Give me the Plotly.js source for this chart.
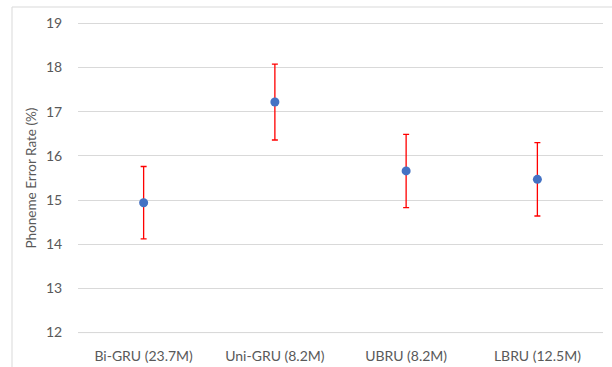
<!DOCTYPE html>
<html>
<head>
<meta charset="utf-8">
<script src="https://cdn.plot.ly/plotly-3.0.1.min.js"></script>
<style>html,body{margin:0;padding:0;background:#fff}#chart{width:612px;height:367px}</style>
</head>
<body>
<div id="chart"></div>
<script>
var models = ["Bi-GRU (23.7M)", "Uni-GRU (8.2M)", "UBRU (8.2M)", "LBRU (12.5M)"];
var perValues = [14.94, 17.22, 15.66, 15.47];
var perErrors = [0.82, 0.86, 0.83, 0.83];
var yTicks = [12, 13, 14, 15, 16, 17, 18, 19];

var trace = {
  x: models,
  y: perValues,
  type: "scatter",
  mode: "markers",
  marker: {color: "#4472C4", size: 9},
  error_y: {type: "data", array: perErrors, visible: true, color: "#FF0000", thickness: 1.3, width: 3},
  hoverinfo: "none"
};

var font = "Lato, 'Open Sans', sans-serif";
var layout = {
  width: 612, height: 367,
  margin: {l: 78, r: 9, t: 19, b: 30, pad: 0},
  paper_bgcolor: "#ffffff", plot_bgcolor: "#ffffff",
  showlegend: false,
  font: {family: font, color: "#595959", size: 13},
  xaxis: {
    type: "category", range: [-0.5, 3.5],
    showgrid: false, zeroline: false, showline: false,
    ticks: "outside", ticklen: 6, tickcolor: "rgba(0,0,0,0)",
    tickfont: {size: 14, color: "#595959", family: font}
  },
  yaxis: {
    range: [11.9, 19.1], tickvals: yTicks, ticktext: yTicks.map(String),
    showgrid: true, gridcolor: "#d9d9d9", gridwidth: 1,
    zeroline: false, showline: false,
    ticks: "outside", ticklen: 12, tickcolor: "rgba(0,0,0,0)",
    tickfont: {size: 14, color: "#595959", family: font},
    title: {text: "Phoneme Error Rate (%)", font: {size: 13.5, color: "#595959", family: font}, standoff: 6}
  },
  shapes: [{
    type: "rect", xref: "paper", yref: "paper",
    x0: -66/525, x1: 1.2, y0: -0.3, y1: (367 - 30 - 7) / 318,
    line: {color: "#d9d9d9", width: 1}, fillcolor: "rgba(0,0,0,0)", layer: "below"
  }, {
    type: "line", xref: "paper", yref: "y",
    x0: 0, x1: 1, y0: yTicks[0], y1: yTicks[0],
    line: {color: "#d9d9d9", width: 1}, layer: "below"
  }]
};
Plotly.newPlot("chart", [trace], layout, {displayModeBar: false, staticPlot: true});
</script>
</body>
</html>
